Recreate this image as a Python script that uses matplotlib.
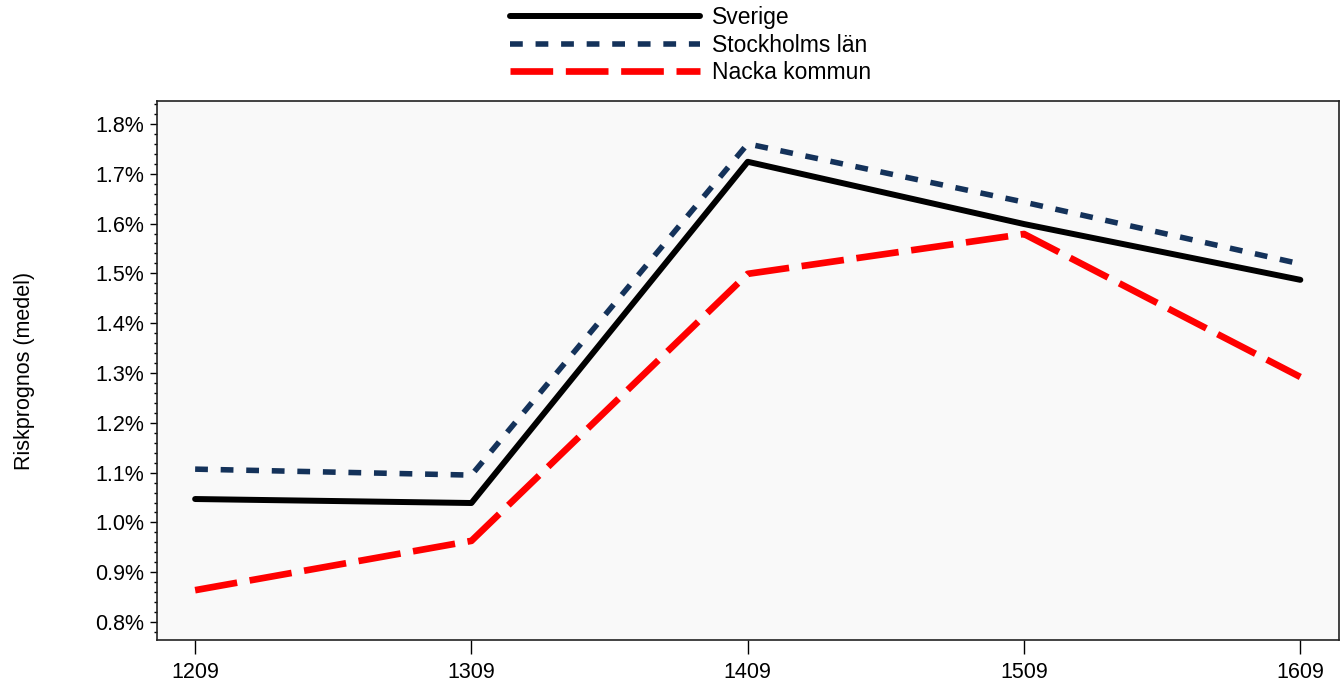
import matplotlib.pyplot as plt
from matplotlib.ticker import FuncFormatter, MultipleLocator

plt.rcParams['font.family'] = ['Liberation Sans', 'DejaVu Sans']

periods = ['1209', '1309', '1409', '1509', '1609']
sverige = [1.047, 1.039, 1.724, 1.599, 1.487]
stockholm = [1.107, 1.095, 1.760, 1.643, 1.519]
nacka = [0.864, 0.963, 1.499, 1.579, 1.292]

fig = plt.figure(figsize=(13.42, 6.92), dpi=100)
ax = fig.add_axes([157 / 1342, 1 - 640 / 692, 1182 / 1342, 539 / 692])
ax.set_facecolor('#f9f9f9')

x = range(len(periods))
ax.plot(x, sverige, color='black', lw=4.3, solid_capstyle='round',
        solid_joinstyle='round', label='Sverige', zorder=3)
ax.plot(x, stockholm, color='#14325a', lw=4.0, dashes=(2.3, 2.3),
        label='Stockholms län', zorder=2)
ax.plot(x, nacka, color='#ff0000', lw=4.8, dashes=(6.4, 1.9),
        label='Nacka kommun', zorder=2)

ax.set_xlim(-0.138, 4.14)
ax.set_ylim(0.764, 1.846)
ax.set_xticks(list(x))
ax.set_xticklabels(periods)
ax.yaxis.set_major_locator(MultipleLocator(0.1))
ax.yaxis.set_minor_locator(MultipleLocator(0.02))
ax.yaxis.set_major_formatter(FuncFormatter(lambda v, p: f'{v:.1f}%'))

ax.tick_params(axis='both', labelsize=15.5, colors='black')
ax.tick_params(axis='x', length=10, width=1, pad=6)
ax.tick_params(axis='y', which='major', length=5, width=1, pad=4)
ax.tick_params(axis='y', which='minor', length=2, width=1)
for s in ax.spines.values():
    s.set_linewidth(1.2)
    s.set_color('#222222')

ax.set_ylabel('Riskprognos (medel)', fontsize=15.5)
ax.yaxis.set_label_coords(-122 / 1182, 0.5)

ax.legend(loc='upper left', bbox_to_anchor=(510 / 1342, 1 - 6 / 692),
          bbox_transform=fig.transFigure, ncol=1, frameon=False,
          fontsize=16.5, handlelength=8.3, handletextpad=0.5,
          labelspacing=0.2, borderpad=0, borderaxespad=0)

fig.savefig('out.png', dpi=100)
